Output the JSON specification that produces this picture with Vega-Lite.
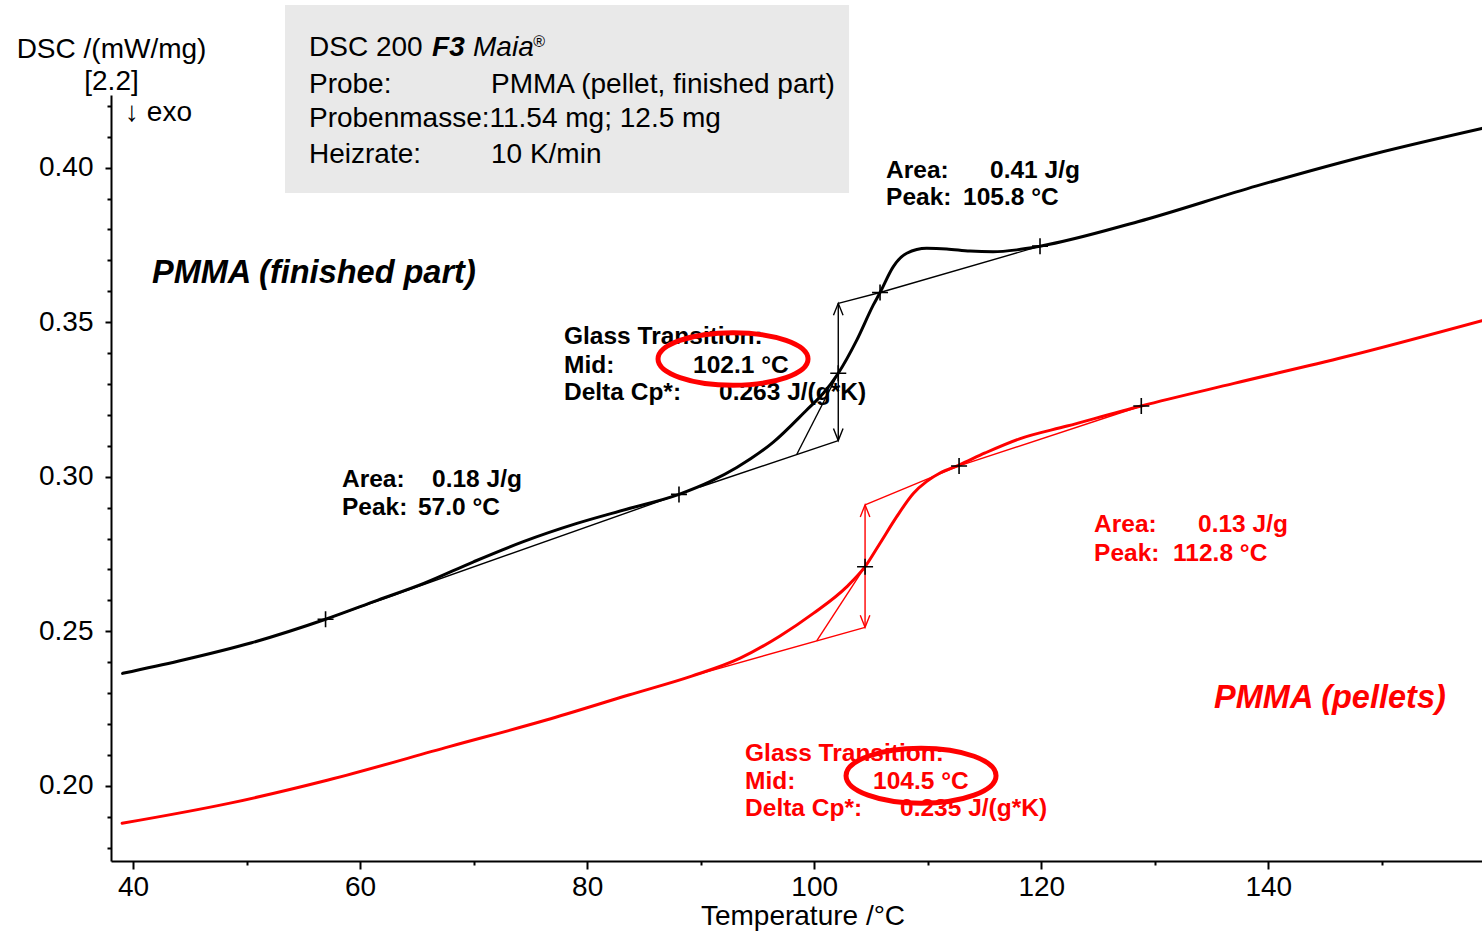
{
  "$schema": "https://vega.github.io/schema/vega-lite/v6.json",
  "width": 1371,
  "height": 766,
  "autosize": {"type": "none"},
  "padding": {"left": 111, "top": 95, "right": 0, "bottom": 71},
  "background": "white",
  "config": {
    "view": {"stroke": null},
    "font": "Liberation Sans",
    "text": {"font": "Liberation Sans"}
  },
  "datasets": {
    "curves": [
      {"series": "finished part", "T": 39.08, "dsc": 0.2364},
      {"series": "finished part", "T": 44.04, "dsc": 0.2404},
      {"series": "finished part", "T": 50.45, "dsc": 0.2463},
      {"series": "finished part", "T": 56.96, "dsc": 0.2539},
      {"series": "finished part", "T": 61.57, "dsc": 0.2601},
      {"series": "finished part", "T": 65.61, "dsc": 0.2655},
      {"series": "finished part", "T": 70.0, "dsc": 0.2725},
      {"series": "finished part", "T": 74.38, "dsc": 0.279},
      {"series": "finished part", "T": 79.1, "dsc": 0.2849},
      {"series": "finished part", "T": 83.48, "dsc": 0.2895},
      {"series": "finished part", "T": 88.09, "dsc": 0.2943},
      {"series": "finished part", "T": 90.82, "dsc": 0.2984},
      {"series": "finished part", "T": 93.18, "dsc": 0.303},
      {"series": "finished part", "T": 96.4, "dsc": 0.3112},
      {"series": "finished part", "T": 99.34, "dsc": 0.3216},
      {"series": "finished part", "T": 100.8, "dsc": 0.327},
      {"series": "finished part", "T": 102.12, "dsc": 0.3335},
      {"series": "finished part", "T": 103.75, "dsc": 0.3442},
      {"series": "finished part", "T": 105.21, "dsc": 0.3556},
      {"series": "finished part", "T": 105.8, "dsc": 0.3596},
      {"series": "finished part", "T": 106.97, "dsc": 0.368},
      {"series": "finished part", "T": 108.15, "dsc": 0.3723},
      {"series": "finished part", "T": 109.91, "dsc": 0.3739},
      {"series": "finished part", "T": 111.67, "dsc": 0.3737},
      {"series": "finished part", "T": 113.73, "dsc": 0.373},
      {"series": "finished part", "T": 115.75, "dsc": 0.3728},
      {"series": "finished part", "T": 117.84, "dsc": 0.3734},
      {"series": "finished part", "T": 119.89, "dsc": 0.3746},
      {"series": "finished part", "T": 128.5, "dsc": 0.3825},
      {"series": "finished part", "T": 138.98, "dsc": 0.3941},
      {"series": "finished part", "T": 149.46, "dsc": 0.4046},
      {"series": "finished part", "T": 158.82, "dsc": 0.4127},
      {"series": "pellets", "T": 39.04, "dsc": 0.1879},
      {"series": "pellets", "T": 48.65, "dsc": 0.1945},
      {"series": "pellets", "T": 57.19, "dsc": 0.2019},
      {"series": "pellets", "T": 67.86, "dsc": 0.2127},
      {"series": "pellets", "T": 76.4, "dsc": 0.2213},
      {"series": "pellets", "T": 83.66, "dsc": 0.2294},
      {"series": "pellets", "T": 89.21, "dsc": 0.2355},
      {"series": "pellets", "T": 93.48, "dsc": 0.2413},
      {"series": "pellets", "T": 96.99, "dsc": 0.2485},
      {"series": "pellets", "T": 99.92, "dsc": 0.2558},
      {"series": "pellets", "T": 102.86, "dsc": 0.2644},
      {"series": "pellets", "T": 104.48, "dsc": 0.2709},
      {"series": "pellets", "T": 105.8, "dsc": 0.2785},
      {"series": "pellets", "T": 107.27, "dsc": 0.2871},
      {"series": "pellets", "T": 108.73, "dsc": 0.2946},
      {"series": "pellets", "T": 109.91, "dsc": 0.2985},
      {"series": "pellets", "T": 111.08, "dsc": 0.3012},
      {"series": "pellets", "T": 112.76, "dsc": 0.3038},
      {"series": "pellets", "T": 115.05, "dsc": 0.3077},
      {"series": "pellets", "T": 118.02, "dsc": 0.3122},
      {"series": "pellets", "T": 122.27, "dsc": 0.3164},
      {"series": "pellets", "T": 128.81, "dsc": 0.3229},
      {"series": "pellets", "T": 136.98, "dsc": 0.3302},
      {"series": "pellets", "T": 146.79, "dsc": 0.3388},
      {"series": "pellets", "T": 158.82, "dsc": 0.3505}
    ],
    "construction": [
      {"series": "finished part", "seg": "peak 57 baseline", "T": 56.96, "dsc": 0.2539},
      {"series": "finished part", "seg": "peak 57 baseline", "T": 88.09, "dsc": 0.2943},
      {"series": "finished part", "seg": "tg lower tangent", "T": 89.94, "dsc": 0.2967},
      {"series": "finished part", "seg": "tg lower tangent", "T": 102.12, "dsc": 0.3117},
      {"series": "finished part", "seg": "tg inflection", "T": 98.46, "dsc": 0.3072},
      {"series": "finished part", "seg": "tg inflection", "T": 102.12, "dsc": 0.3335},
      {"series": "finished part", "seg": "tg step", "T": 102.12, "dsc": 0.3561},
      {"series": "finished part", "seg": "tg step", "T": 102.12, "dsc": 0.3117},
      {"series": "finished part", "seg": "tg upper tangent", "T": 102.12, "dsc": 0.3561},
      {"series": "finished part", "seg": "tg upper tangent", "T": 105.8, "dsc": 0.3596},
      {"series": "finished part", "seg": "tg upper tangent", "T": 119.89, "dsc": 0.3746},
      {"series": "pellets", "seg": "tg lower tangent", "T": 89.21, "dsc": 0.2355},
      {"series": "pellets", "seg": "tg lower tangent", "T": 104.48, "dsc": 0.2513},
      {"series": "pellets", "seg": "tg inflection", "T": 100.22, "dsc": 0.2469},
      {"series": "pellets", "seg": "tg inflection", "T": 104.48, "dsc": 0.2709},
      {"series": "pellets", "seg": "tg step", "T": 104.48, "dsc": 0.2909},
      {"series": "pellets", "seg": "tg step", "T": 104.48, "dsc": 0.2513},
      {"series": "pellets", "seg": "tg upper tangent", "T": 104.48, "dsc": 0.2909},
      {"series": "pellets", "seg": "tg upper tangent", "T": 112.76, "dsc": 0.3035},
      {"series": "pellets", "seg": "peak baseline", "T": 112.76, "dsc": 0.3035},
      {"series": "pellets", "seg": "peak baseline", "T": 128.81, "dsc": 0.3229}
    ],
    "markers": [
      {"series": "finished part", "T": 56.96, "dsc": 0.2539},
      {"series": "finished part", "T": 88.09, "dsc": 0.2943},
      {"series": "finished part", "T": 102.12, "dsc": 0.3335},
      {"series": "finished part", "T": 105.8, "dsc": 0.3596},
      {"series": "finished part", "T": 119.89, "dsc": 0.3746},
      {"series": "pellets", "T": 104.48, "dsc": 0.2709},
      {"series": "pellets", "T": 112.76, "dsc": 0.3035},
      {"series": "pellets", "T": 128.81, "dsc": 0.3229}
    ],
    "arrowheads": [
      {"series": "finished part", "end": "top", "T": 102.12, "dsc": 0.3561},
      {"series": "finished part", "end": "bottom", "T": 102.12, "dsc": 0.3117},
      {"series": "pellets", "end": "top", "T": 104.48, "dsc": 0.2909},
      {"series": "pellets", "end": "bottom", "T": 104.48, "dsc": 0.2513}
    ],
    "results": [
      {"series": "finished part", "text": "Area:", "T": 106.33, "dsc": 0.3968},
      {"series": "finished part", "text": "0.41 J/g", "T": 115.49, "dsc": 0.3968},
      {"series": "finished part", "text": "Peak:", "T": 106.33, "dsc": 0.3878},
      {"series": "finished part", "text": "105.8 °C", "T": 113.11, "dsc": 0.3878},
      {"series": "finished part", "text": "Glass Transition:", "T": 77.96, "dsc": 0.3428},
      {"series": "finished part", "text": "Mid:", "T": 77.96, "dsc": 0.3337},
      {"series": "finished part", "text": "102.1 °C", "T": 89.33, "dsc": 0.3337},
      {"series": "finished part", "text": "Delta Cp*:", "T": 77.96, "dsc": 0.3247},
      {"series": "finished part", "text": "0.263 J/(g*K)", "T": 91.62, "dsc": 0.3247},
      {"series": "finished part", "text": "Area:", "T": 58.41, "dsc": 0.2968},
      {"series": "finished part", "text": "0.18 J/g", "T": 66.34, "dsc": 0.2968},
      {"series": "finished part", "text": "Peak:", "T": 58.41, "dsc": 0.2875},
      {"series": "finished part", "text": "57.0 °C", "T": 65.1, "dsc": 0.2875},
      {"series": "pellets", "text": "Area:", "T": 124.65, "dsc": 0.282},
      {"series": "pellets", "text": "0.13 J/g", "T": 133.81, "dsc": 0.282},
      {"series": "pellets", "text": "Peak:", "T": 124.65, "dsc": 0.2729},
      {"series": "pellets", "text": "112.8 °C", "T": 131.61, "dsc": 0.2729},
      {"series": "pellets", "text": "Glass Transition:", "T": 93.91, "dsc": 0.2082},
      {"series": "pellets", "text": "Mid:", "T": 93.91, "dsc": 0.1991},
      {"series": "pellets", "text": "104.5 °C", "T": 105.18, "dsc": 0.1991},
      {"series": "pellets", "text": "Delta Cp*:", "T": 93.91, "dsc": 0.1901},
      {"series": "pellets", "text": "0.235 J/(g*K)", "T": 107.56, "dsc": 0.1901}
    ],
    "samples": [
      {"series": "finished part", "text": "PMMA (finished part)", "T": 41.67, "dsc": 0.3627},
      {"series": "pellets", "text": "PMMA (pellets)", "T": 135.22, "dsc": 0.2252}
    ],
    "highlights": [
      {"series": "finished part", "T": 92.85, "dsc": 0.3381},
      {"series": "pellets", "T": 109.41, "dsc": 0.2033}
    ],
    "infobox": [
      {"T": 53.39, "T2": 103.07, "dsc": 0.3918, "dsc2": 0.4526}
    ],
    "info": [
      {"part": "plain", "text": "DSC 200", "T": 55.5, "dsc": 0.436},
      {"part": "model", "text": "F3", "T": 66.34, "dsc": 0.436},
      {"part": "name", "text": "Maia", "T": 69.95, "dsc": 0.436},
      {"part": "mark", "text": "®", "T": 75.23, "dsc": 0.439},
      {"part": "plain", "text": "Probe:", "T": 55.5, "dsc": 0.4243},
      {"part": "plain", "text": "PMMA (pellet, finished part)", "T": 71.53, "dsc": 0.4243},
      {"part": "plain", "text": "Probenmasse:11.54 mg; 12.5 mg", "T": 55.5, "dsc": 0.413},
      {"part": "plain", "text": "Heizrate:", "T": 55.5, "dsc": 0.4015},
      {"part": "plain", "text": "10 K/min", "T": 71.53, "dsc": 0.4015},
      {"part": "plain", "text": "↓ exo", "T": 39.3, "dsc": 0.4151}
    ]
  },
  "encoding": {
    "x": {
      "field": "T",
      "type": "quantitative",
      "scale": {"domain": [38.062, 158.82], "nice": false, "zero": false},
      "axis": {
        "title": "Temperature /°C",
        "values": [40, 50, 60, 70, 80, 90, 100, 110, 120, 130, 140, 150],
        "labelExpr": "datum.value % 20 === 0 ? datum.label : ''",
        "format": "d",
        "grid": false,
        "domainColor": "#000000",
        "domainWidth": 2,
        "tickColor": "#000000",
        "tickWidth": 2,
        "tickSize": {"condition": {"test": "datum.value % 20 === 0", "value": 8}, "value": 4},
        "labelFont": "Liberation Sans",
        "labelFontSize": 28,
        "labelColor": "#000000",
        "labelPadding": 4,
        "labelFlush": false,
        "labelOverlap": false,
        "titleFont": "Liberation Sans",
        "titleFontSize": 28,
        "titleFontWeight": "normal",
        "titleColor": "#000000",
        "titleAlign": "center",
        "titleBaseline": "alphabetic",
        "titleX": 691.5,
        "titleY": 63.5
      }
    },
    "y": {
      "field": "dsc",
      "type": "quantitative",
      "scale": {"domain": [0.1757, 0.4235], "nice": false, "zero": false},
      "axis": {
        "title": ["DSC /(mW/mg)", "[2.2]"],
        "values": [0.18, 0.19, 0.2, 0.21, 0.22, 0.23, 0.24, 0.25, 0.26, 0.27, 0.28, 0.29, 0.3, 0.31, 0.32, 0.33, 0.34, 0.35, 0.36, 0.37, 0.38, 0.39, 0.4, 0.41, 0.42],
        "labelExpr": "round(datum.value * 100) % 5 === 0 ? format(datum.value, '.2f') : ''",
        "grid": false,
        "domainColor": "#000000",
        "domainWidth": 2,
        "tickColor": "#000000",
        "tickWidth": 2,
        "tickSize": {"condition": {"test": "round(datum.value * 100) % 5 === 0", "value": 6}, "value": 4},
        "labelFont": "Liberation Sans",
        "labelFontSize": 28,
        "labelColor": "#000000",
        "labelPadding": 12,
        "labelFlush": false,
        "labelOverlap": false,
        "titleFont": "Liberation Sans",
        "titleFontSize": 28,
        "titleFontWeight": "normal",
        "titleColor": "#000000",
        "titleAngle": 0,
        "titleAlign": "center",
        "titleBaseline": "alphabetic",
        "titleLineHeight": 32,
        "titleX": 0,
        "titleY": -38
      }
    }
  },
  "layer": [
    {
      "data": {"name": "infobox"},
      "mark": {"type": "rect", "fill": "#e9e9e9", "stroke": null},
      "encoding": {"x2": {"field": "T2"}, "y2": {"field": "dsc2"}}
    },
    {
      "data": {"name": "info"},
      "transform": [{"filter": "datum.part === 'plain'"}],
      "mark": {"type": "text", "align": "left", "baseline": "alphabetic", "fontSize": 28, "color": "#000000"},
      "encoding": {"text": {"field": "text"}}
    },
    {
      "data": {"name": "info"},
      "transform": [{"filter": "datum.part === 'model'"}],
      "mark": {"type": "text", "align": "left", "baseline": "alphabetic", "fontSize": 28, "fontWeight": "bold", "fontStyle": "italic", "color": "#000000"},
      "encoding": {"text": {"field": "text"}}
    },
    {
      "data": {"name": "info"},
      "transform": [{"filter": "datum.part === 'name'"}],
      "mark": {"type": "text", "align": "left", "baseline": "alphabetic", "fontSize": 28, "fontStyle": "italic", "color": "#000000"},
      "encoding": {"text": {"field": "text"}}
    },
    {
      "data": {"name": "info"},
      "transform": [{"filter": "datum.part === 'mark'"}],
      "mark": {"type": "text", "align": "left", "baseline": "alphabetic", "fontSize": 16, "fontStyle": "italic", "color": "#000000"},
      "encoding": {"text": {"field": "text"}}
    },
    {
      "data": {"name": "construction"},
      "mark": {"type": "line", "strokeWidth": 1.4},
      "encoding": {
        "detail": {"field": "seg"},
        "color": {"field": "series", "type": "nominal", "scale": {"domain": ["finished part", "pellets"], "range": ["#000000", "#ff0000"]}, "legend": null}
      }
    },
    {
      "data": {"name": "curves"},
      "mark": {"type": "line", "strokeWidth": 3, "interpolate": "monotone", "strokeCap": "round"},
      "encoding": {
        "color": {"field": "series", "type": "nominal", "legend": null}
      }
    },
    {
      "data": {"name": "arrowheads"},
      "transform": [{"filter": "datum.end === 'top'"}],
      "mark": {"type": "point", "shape": "M-0.4,1L0,0L0.4,1", "size": 576, "filled": false, "strokeWidth": 1.4, "opacity": 1},
      "encoding": {"color": {"field": "series", "type": "nominal", "legend": null}}
    },
    {
      "data": {"name": "arrowheads"},
      "transform": [{"filter": "datum.end === 'bottom'"}],
      "mark": {"type": "point", "shape": "M-0.4,-1L0,0L0.4,-1", "size": 576, "filled": false, "strokeWidth": 1.4, "opacity": 1},
      "encoding": {"color": {"field": "series", "type": "nominal", "legend": null}}
    },
    {
      "data": {"name": "markers"},
      "mark": {"type": "point", "shape": "M-1,0L1,0M0,-1L0,1", "size": 256, "filled": false, "stroke": "#000000", "strokeWidth": 1.6, "opacity": 1}
    },
    {
      "data": {"name": "results"},
      "mark": {"type": "text", "align": "left", "baseline": "alphabetic", "fontSize": 24.5, "fontWeight": "bold"},
      "encoding": {
        "text": {"field": "text"},
        "color": {"field": "series", "type": "nominal", "legend": null}
      }
    },
    {
      "data": {"name": "samples"},
      "mark": {"type": "text", "align": "left", "baseline": "alphabetic", "fontSize": 32.5, "fontWeight": "bold", "fontStyle": "italic"},
      "encoding": {
        "text": {"field": "text"},
        "color": {"field": "series", "type": "nominal", "legend": null}
      }
    },
    {
      "data": {"name": "highlights"},
      "transform": [{"filter": "datum.series === 'finished part'"}],
      "mark": {"type": "point", "shape": "M-1,0C-1,-0.1933,-0.5523,-0.35,0,-0.35C0.5523,-0.35,1,-0.1933,1,0C1,0.1933,0.5523,0.35,0,0.35C-0.5523,0.35,-1,0.1933,-1,0Z", "size": 22500, "filled": false, "stroke": "#ff0000", "strokeWidth": 5, "opacity": 1}
    },
    {
      "data": {"name": "highlights"},
      "transform": [{"filter": "datum.series === 'pellets'"}],
      "mark": {"type": "point", "shape": "M-1,0C-1,-0.2026,-0.5523,-0.367,0,-0.367C0.5523,-0.367,1,-0.2026,1,0C1,0.2026,0.5523,0.367,0,0.367C-0.5523,0.367,-1,0.2026,-1,0Z", "size": 22500, "filled": false, "stroke": "#ff0000", "strokeWidth": 5, "opacity": 1}
    }
  ]
}
